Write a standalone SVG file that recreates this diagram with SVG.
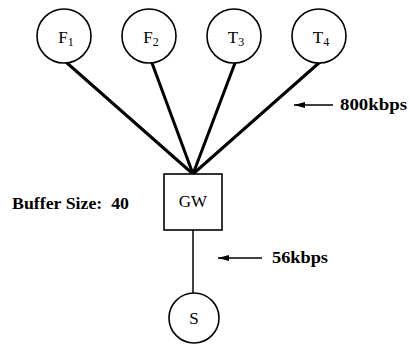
<svg xmlns="http://www.w3.org/2000/svg" width="409" height="344" viewBox="0 0 409 344">
<defs>
<style>
.node{fill:#fff;stroke:#000;stroke-width:1.6}
.lbl{font-family:"Liberation Serif",serif;font-size:17px;fill:#000;text-anchor:middle}
.sub{font-size:12px}
.bold{font-family:"Liberation Serif",serif;font-weight:bold;font-size:16px;fill:#000}
.thick{stroke:#000;stroke-width:3;fill:none;stroke-linecap:round}
.thin{stroke:#000;stroke-width:1.5;fill:none}
.arr{stroke:#000;stroke-width:1.5;fill:none}
</style>
<marker id="ah" markerWidth="12" markerHeight="8" refX="11" refY="4" orient="auto" markerUnits="userSpaceOnUse">
<path d="M0,1 L11,4 L0,7 Z" fill="#000"/>
</marker>
</defs>
<rect width="409" height="344" fill="#fff"/>
<g id="connectors">
<line class="thick" x1="67" y1="63" x2="193" y2="174"/>
<line class="thick" x1="152" y1="63" x2="193" y2="174"/>
<line class="thick" x1="235" y1="63" x2="193" y2="174"/>
<line class="thick" x1="320" y1="62" x2="193" y2="174"/>
<line class="thin" x1="193" y1="230" x2="193" y2="293"/>
</g>
<g id="F1"><circle class="node" cx="64" cy="36" r="27"/><text class="lbl" x="66" y="43">F<tspan class="sub" dy="3">1</tspan></text></g>
<g id="F2"><circle class="node" cx="149" cy="36" r="27"/><text class="lbl" x="151" y="43">F<tspan class="sub" dy="3">2</tspan></text></g>
<g id="T3"><circle class="node" cx="234" cy="36" r="27"/><text class="lbl" x="236" y="43">T<tspan class="sub" dy="3">3</tspan></text></g>
<g id="T4"><circle class="node" cx="319" cy="36" r="27"/><text class="lbl" x="321" y="43">T<tspan class="sub" dy="3">4</tspan></text></g>
<g id="GW"><rect class="node" x="164" y="174" width="58" height="56"/><text class="lbl" x="193" y="207">GW</text></g>
<g id="S"><circle class="node" cx="194" cy="318" r="25"/><text class="lbl" x="194" y="324">S</text></g>
<g id="labels">
<line class="arr" x1="333" y1="105" x2="294" y2="105" marker-end="url(#ah)"/>
<text class="bold" x="340" y="110" textLength="67" lengthAdjust="spacingAndGlyphs">800kbps</text>
<line class="arr" x1="262" y1="258" x2="218" y2="258" marker-end="url(#ah)"/>
<text class="bold" x="272" y="263" textLength="56" lengthAdjust="spacingAndGlyphs">56kbps</text>
<text class="bold" x="12" y="209" textLength="117" lengthAdjust="spacingAndGlyphs">Buffer Size:&#160; 40</text>
</g>
</svg>
